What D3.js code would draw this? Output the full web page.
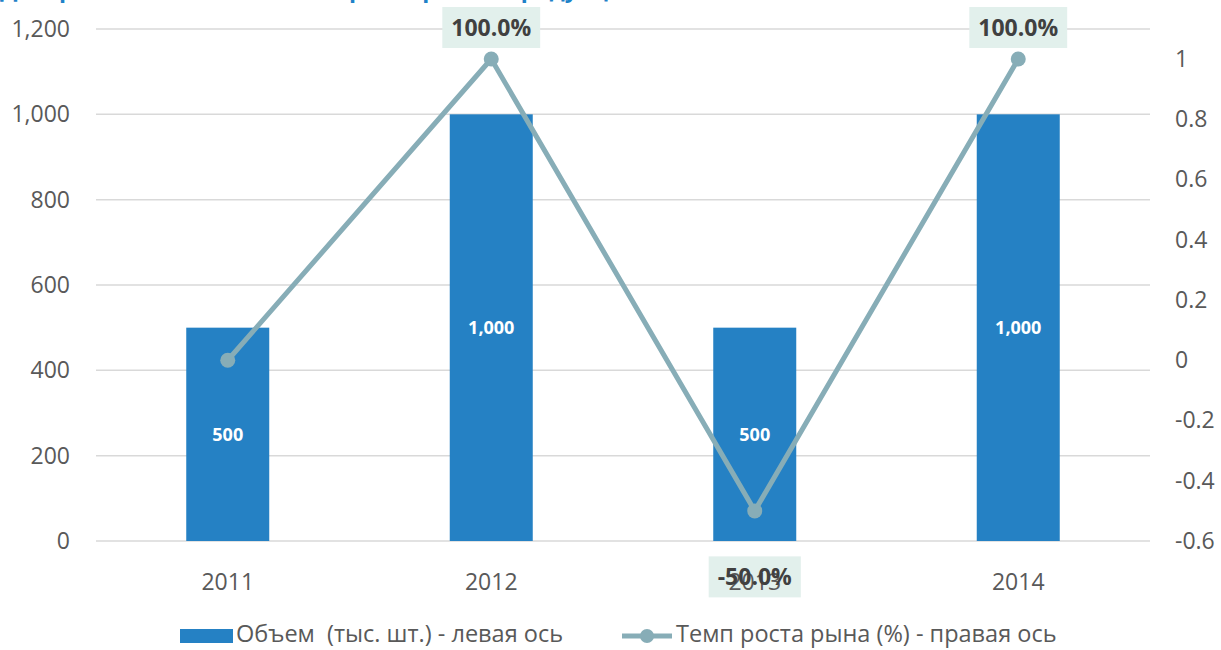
<!DOCTYPE html>
<html>
<head>
<meta charset="utf-8">
<script src="https://cdn.jsdelivr.net/npm/d3@7"></script>
<style>
  body { margin: 0; background: #fff; }
  text { font-family: "Open Sans", sans-serif; }
</style>
</head>
<body>
<svg id="chart"></svg>
<script>
// Data
const years = ["2011", "2012", "2013", "2014"];
const volume = [500, 1000, 500, 1000];          // тыс. шт., left axis
const growth = [0, 1, -0.5, 1];                  // темп роста, right axis
const leftTicks = [0, 200, 400, 600, 800, 1000, 1200];
const rightTicks = [-0.6, -0.4, -0.2, 0, 0.2, 0.4, 0.6, 0.8, 1];

const width = 1221, height = 650;
const margin = {top: 29, bottom: 109, left: 96, right: 71};
const hyphen = s => s.replace("\u2212", "-");

const svg = d3.select("#chart")
    .attr("width", width)
    .attr("height", height);

// Title (cut off at the top of the picture)
svg.append("text")
    .attr("x", 0)
    .attr("y", -3)
    .attr("fill", "#1f82c8")
    .attr("font-weight", "bold")
    .attr("font-size", 23)
    .text("Диаграмма 1. Объем и темп роста рынка продукции в России в 2011–2014 гг., тыс. шт. / %");

const x = d3.scaleBand()
    .domain(years)
    .range([margin.left, width - margin.right])
    .paddingInner(0.685)
    .paddingOuter(0.3425);

const yLeft = d3.scaleLinear()
    .domain([0, 1200])
    .range([height - margin.bottom, margin.top]);

const yRight = d3.scaleLinear()
    .domain([-0.6, 1])
    .range([height - margin.bottom, 59]);

// Gridlines
svg.append("g")
    .selectAll("line")
    .data(leftTicks)
    .enter().append("line")
    .attr("x1", margin.left)
    .attr("x2", width - margin.right)
    .attr("y1", d => yLeft(d))
    .attr("y2", d => yLeft(d))
    .attr("stroke", "#d9d9d9")
    .attr("stroke-width", 1.5);

function styleAxis(g) {
    g.select(".domain").remove();
    g.selectAll("text")
        .attr("font-size", 23)
        .attr("fill", "#595959")
        .attr("font-family", "Open Sans, sans-serif");
}

// Left axis
svg.append("g")
    .attr("transform", `translate(70,0)`)
    .call(d3.axisLeft(yLeft).tickValues(leftTicks).tickSize(0).tickPadding(0).tickFormat(d3.format(",")))
    .call(styleAxis);

// Right axis
svg.append("g")
    .attr("transform", `translate(1175,0)`)
    .call(d3.axisRight(yRight).tickValues(rightTicks).tickSize(0).tickPadding(0)
        .tickFormat(d => hyphen(String(+d.toFixed(1)))))
    .call(styleAxis);

// Bars
svg.append("g")
    .selectAll("rect")
    .data(volume)
    .enter().append("rect")
    .attr("x", (d, i) => x(years[i]))
    .attr("y", d => yLeft(d))
    .attr("width", x.bandwidth())
    .attr("height", d => yLeft(0) - yLeft(d))
    .attr("fill", "#2581c4");

// Bar labels
svg.append("g")
    .selectAll("text")
    .data(volume)
    .enter().append("text")
    .attr("x", (d, i) => x(years[i]) + x.bandwidth() / 2)
    .attr("y", d => (yLeft(d) + yLeft(0)) / 2)
    .attr("dy", "0.35em")
    .attr("text-anchor", "middle")
    .attr("fill", "#fff")
    .attr("font-weight", "bold")
    .attr("font-size", 18)
    .text(d => d3.format(",")(d));

// Line
const cx = (d, i) => x(years[i]) + x.bandwidth() / 2;
const line = d3.line()
    .x(cx)
    .y(d => yRight(d));

svg.append("path")
    .datum(growth)
    .attr("d", line)
    .attr("fill", "none")
    .attr("stroke", "#87adb7")
    .attr("stroke-width", 5)
    .attr("stroke-linejoin", "round");

svg.append("g")
    .selectAll("circle")
    .data(growth)
    .enter().append("circle")
    .attr("cx", cx)
    .attr("cy", d => yRight(d))
    .attr("r", 7.5)
    .attr("fill", "#87adb7");

// Line labels (skip the zero point): boxes first, then year axis, then texts
const labelData = growth.map((d, i) => ({v: d, i: i})).filter(d => d.v !== 0);
const labelPos = d => {
    const px = cx(d.v, d.i);
    const py = d.v >= 0 ? yRight(d.v) - 31.5 : yRight(d.v) + 66;
    return `translate(${px},${py})`;
};

const boxes = svg.append("g")
    .selectAll("rect")
    .data(labelData)
    .enter().append("rect")
    .attr("transform", labelPos)
    .attr("fill", "#e2f0ec");

// Bottom axis labels
svg.append("g")
    .attr("transform", `translate(0,${height - margin.bottom + 33})`)
    .call(d3.axisBottom(x).tickSize(0).tickPadding(0))
    .call(styleAxis);

const labelTexts = svg.append("g")
    .selectAll("text")
    .data(labelData)
    .enter().append("text")
    .attr("transform", labelPos)
    .attr("text-anchor", "middle")
    .attr("dy", "0.35em")
    .attr("fill", "#404040")
    .attr("font-weight", "bold")
    .attr("font-size", 23)
    .text(d => hyphen(d3.format(".1%")(d.v)));

labelTexts.each(function(d, i) {
    const w = this.getComputedTextLength();
    d3.select(boxes.nodes()[i])
        .attr("x", -w / 2 - 9)
        .attr("y", -20.5)
        .attr("width", w + 18)
        .attr("height", 41);
});

// Legend
const legend = svg.append("g");
legend.append("rect")
    .attr("x", 180).attr("y", 629)
    .attr("width", 53).attr("height", 14)
    .attr("fill", "#2581c4");
legend.append("text")
    .attr("x", 236).attr("y", 634)
    .attr("dy", "0.35em")
    .attr("font-size", 23.5)
    .attr("fill", "#595959")
    .text("Объем\u00a0 (тыс. шт.) - левая ось");

legend.append("line")
    .attr("x1", 622).attr("x2", 672)
    .attr("y1", 636).attr("y2", 636)
    .attr("stroke", "#87adb7")
    .attr("stroke-width", 5);
legend.append("circle")
    .attr("cx", 647).attr("cy", 636).attr("r", 7)
    .attr("fill", "#87adb7");
legend.append("text")
    .attr("x", 676).attr("y", 634)
    .attr("dy", "0.35em")
    .attr("font-size", 23.5)
    .attr("fill", "#595959")
    .text("Темп роста рына (%) - правая ось");
</script>
</body>
</html>
